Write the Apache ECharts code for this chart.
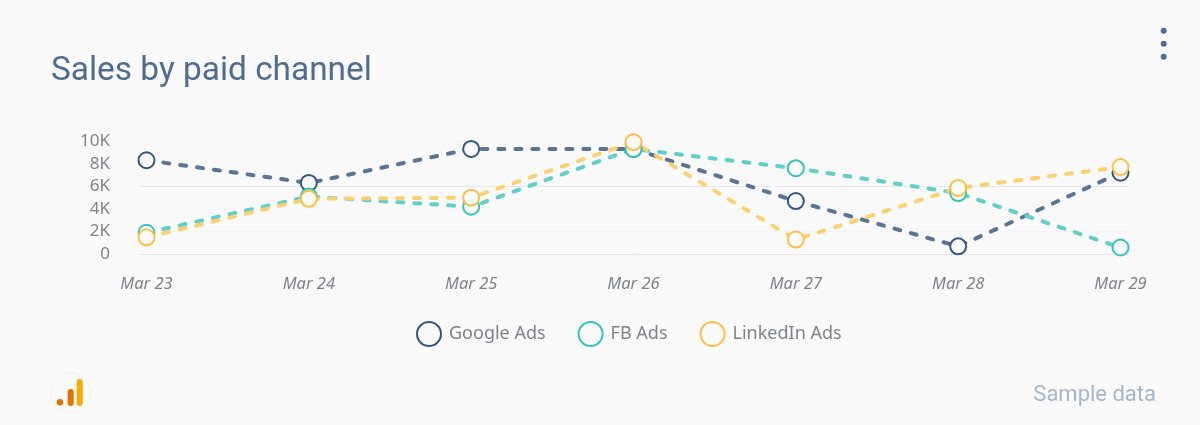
<!DOCTYPE html>
<html>
<head>
<meta charset="utf-8">
<title>Sales by paid channel</title>
<script src="https://cdn.jsdelivr.net/npm/echarts@6/dist/echarts.min.js"></script>
<style>
    html, body { margin: 0; padding: 0; background: #fafafa; }
    #chart { width: 1200px; height: 425px; }
</style>
</head>
<body>
<div id="chart"></div>
<script>
var days = ['Mar 23', 'Mar 24', 'Mar 25', 'Mar 26', 'Mar 27', 'Mar 28', 'Mar 29'];
var googleAds = [8300, 6300, 9300, 9300, 4700, 700, 7200];
var fbAds = [1900, 5100, 4200, 9300, 7600, 5400, 600];
var linkedinAds = [1500, 4900, 5000, 9900, 1300, 5850, 7700];

var BG = '#fafafa';
var LABEL_FONT = '"Noto Sans", sans-serif';

function channelSeries(name, values, markerColor, lineColor) {
    return {
        name: name,
        type: 'line',
        xAxisIndex: 1,
        yAxisIndex: 1,
        data: values,
        symbol: 'circle',
        symbolSize: 16,
        clip: false,
        animation: false,
        itemStyle: { color: BG, borderColor: markerColor, borderWidth: 2 },
        lineStyle: { color: lineColor, width: 4, type: [6, 11], cap: 'round' }
    };
}

var myChart = echarts.init(document.getElementById('chart'), null, { renderer: 'canvas' });

var option = {
    backgroundColor: BG,
    animation: false,
    title: {
        text: 'Sales by paid channel',
        left: 46,
        top: 50,
        textStyle: { fontFamily: 'Roboto', fontWeight: 400, fontSize: 33.4, color: '#4f6d8f' }
    },
    legend: {
        left: 411,
        top: 316,
        icon: 'circle',
        itemWidth: 24,
        itemHeight: 24,
        itemGap: 32,
        textStyle: { fontFamily: LABEL_FONT, fontSize: 18, color: '#7f8287', padding: [0, 0, 0, 3] },
        data: ['Google Ads', 'FB Ads', 'LinkedIn Ads']
    },
    // grid 0 only carries the wider gridlines and the y labels, grid 1 the points
    grid: [
        { left: 139, right: 72, top: 141, height: 113.3 },
        { left: 146.5, right: 79.5, top: 141, height: 113.3 }
    ],
    xAxis: [
        { gridIndex: 0, type: 'value', min: 0, max: 1, show: false },
        {
            gridIndex: 1,
            type: 'category',
            data: days,
            boundaryGap: false,
            axisLine: { show: false },
            axisTick: { show: false },
            axisLabel: {
                margin: 21,
                interval: 0,
                hideOverlap: false,
                fontFamily: LABEL_FONT,
                fontStyle: 'italic',
                fontSize: 16.5,
                color: '#7f8287'
            }
        }
    ],
    yAxis: [
        {
            gridIndex: 0,
            type: 'value',
            min: 0,
            max: 10000,
            interval: 2000,
            axisLine: { show: false },
            axisTick: { show: false },
            axisLabel: {
                margin: 29,
                fontFamily: LABEL_FONT,
                fontSize: 17,
                color: '#7f8287',
                formatter: function (v) {
                    return v === 0 ? '0' : (v / 1000) + 'K';
                }
            },
            splitLine: {
                lineStyle: {
                    width: 1,
                    color: ['#e6e7e9', '#f3f6f6', '#f3f6f6', '#e6e7e9', '#f8f8f8', '#f3f6f6']
                }
            }
        },
        { gridIndex: 1, type: 'value', min: 0, max: 10000, interval: 2000, show: false }
    ],
    series: [
        channelSeries('Google Ads', googleAds, '#34557f', '#5a7594'),
        channelSeries('FB Ads', fbAds, '#2fc6bd', '#5fd0c8'),
        channelSeries('LinkedIn Ads', linkedinAds, '#ffc042', '#ffd06e')
    ],
    graphic: [
        // kebab menu
        { type: 'circle', shape: { cx: 1163.7, cy: 30.7, r: 3 }, style: { fill: '#4f6d94' } },
        { type: 'circle', shape: { cx: 1163.7, cy: 43.7, r: 3 }, style: { fill: '#4f6d94' } },
        { type: 'circle', shape: { cx: 1163.7, cy: 56.7, r: 3 }, style: { fill: '#4f6d94' } },
        // analytics logo
        { type: 'circle', shape: { cx: 70.7, cy: 392.7, r: 20 }, style: { fill: 'none', stroke: '#f0f2f2', lineWidth: 1 } },
        { type: 'circle', shape: { cx: 60, cy: 402.3, r: 3.3 }, style: { fill: '#e37400' } },
        { type: 'rect', shape: { x: 67.7, y: 389, width: 6, height: 17, r: 3 }, style: { fill: '#e37400' } },
        { type: 'rect', shape: { x: 76.7, y: 379, width: 6, height: 27, r: 3 }, style: { fill: '#f9ab00' } },
        {
            type: 'text',
            right: 44,
            top: 384,
            style: { text: 'Sample data', fontFamily: 'Roboto', fontSize: 22, fill: '#a7b6c6' }
        }
    ]
};

myChart.setOption(option);
</script>
</body>
</html>
